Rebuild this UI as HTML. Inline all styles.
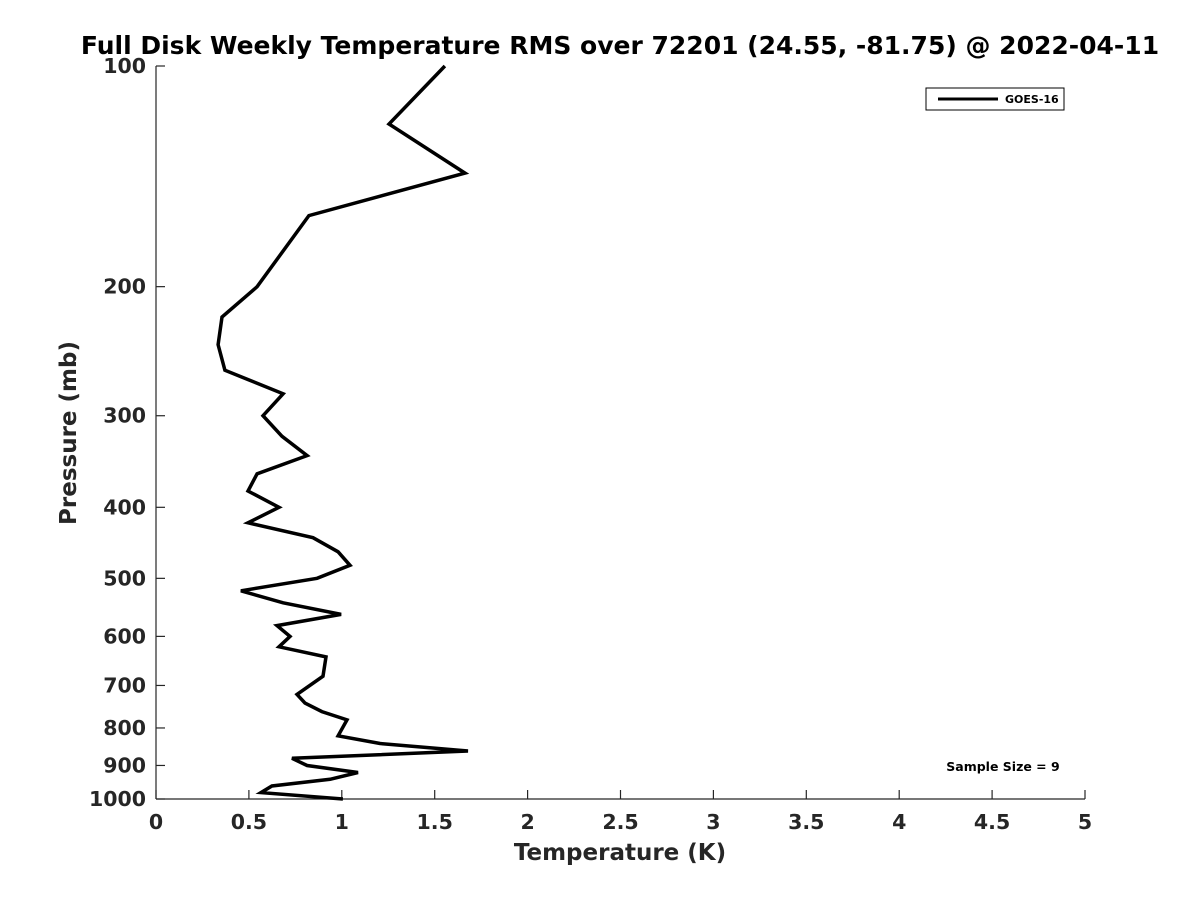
<!DOCTYPE html>
<html><head><meta charset="utf-8"><style>
html,body{margin:0;padding:0;background:#fff;}
svg{display:block;font-family:"DejaVu Sans","Liberation Sans",sans-serif;}
</style></head><body>
<svg id="chart" width="1200" height="900">
<text x="620" y="54" text-anchor="middle" font-size="25" font-weight="bold" fill="#000">Full Disk Weekly Temperature RMS over 72201 (24.55, -81.75) @ 2022-04-11</text>
<g id="axes"></g>
<polyline id="series" fill="none" stroke="#000" stroke-width="3.5" stroke-linejoin="miter"></polyline>
<g>
<rect x="926" y="88" width="138" height="22" fill="#fff" stroke="#000" stroke-width="1"/>
<line x1="938" y1="99" x2="998" y2="99" stroke="#000" stroke-width="3"/>
<text x="1005" y="103" font-size="11" font-weight="bold">GOES-16</text>
</g>
<text x="1003" y="771" text-anchor="middle" font-size="12.5" font-weight="bold">Sample Size = 9</text>
<text x="620" y="860" text-anchor="middle" font-size="23" font-weight="bold" fill="#262626">Temperature (K)</text>
<text transform="translate(76,433) rotate(-90)" text-anchor="middle" font-size="23" font-weight="bold" fill="#262626">Pressure (mb)</text>
</svg>
<script>
const pressures=[100,120,140,160,200,220,240,260,280,300,320,340,360,380,400,420,440,460,480,500,520,540,560,580,600,620,640,680,720,740,760,780,820,840,860,880,900,920,940,960,980,1000];
const temps=[1.555,1.254,1.663,0.823,0.544,0.355,0.334,0.371,0.684,0.576,0.678,0.813,0.544,0.495,0.662,0.495,0.845,0.98,1.044,0.867,0.457,0.684,0.996,0.651,0.721,0.662,0.915,0.899,0.759,0.802,0.893,1.028,0.98,1.206,1.679,0.732,0.813,1.087,0.937,0.624,0.565,1.006];
const xTicks=[0,0.5,1,1.5,2,2.5,3,3.5,4,4.5,5];
const xTickLabels=["0","0.5","1","1.5","2","2.5","3","3.5","4","4.5","5"];
const yTicks=[100,200,300,400,500,600,700,800,900,1000];
const yTickLabels=["100","200","300","400","500","600","700","800","900","1000"];
const X0=156,X1=1085,Y0=66,Y1=799;
function xs(t){return X0+(t-0)/(5-0)*(X1-X0);}
function ys(p){return Y0+Math.log10(p/100)/1*(Y1-Y0);}
const NS="http://www.w3.org/2000/svg";
const ax=document.getElementById('axes');
function mk(tag,attrs){const e=document.createElementNS(NS,tag);for(const k in attrs)e.setAttribute(k,attrs[k]);return e;}
const xl=mk('line',{x1:X0,y1:Y1,x2:X1,y2:Y1,stroke:'#262626','stroke-width':1.2});


ax.appendChild(xl);
const yl=mk('line',{x1:X0,y1:Y0,x2:X0,y2:Y1,stroke:'#262626','stroke-width':1.2});


ax.appendChild(yl);
xTicks.forEach((t,i)=>{
  const x=xs(t);
  const tk=mk('line',{x1:x,y1:Y1,x2:x,y2:Y1-9,stroke:'#262626','stroke-width':1.2});
  
  
  ax.appendChild(tk);
  const tx=mk('text',{x:x,y:Y1+30,'text-anchor':'middle','font-size':20.5,'font-weight':'bold',fill:'#262626'});
  tx.textContent=xTickLabels[i];
  
  
  ax.appendChild(tx);
});
yTicks.forEach((p,i)=>{
  const y=ys(p);
  const tk=mk('line',{x1:X0,y1:y,x2:X0+9,y2:y,stroke:'#262626','stroke-width':1.2});
  
  
  ax.appendChild(tk);
  const tx=mk('text',{x:X0-10,y:y+7,'text-anchor':'end','font-size':20.5,'font-weight':'bold',fill:'#262626'});
  tx.textContent=yTickLabels[i];
  
  
  ax.appendChild(tx);
});
document.getElementById('series').setAttribute('points',pressures.map((p,i)=>xs(temps[i]).toFixed(1)+','+ys(p).toFixed(1)).join(' '));
</script>
</body></html>
